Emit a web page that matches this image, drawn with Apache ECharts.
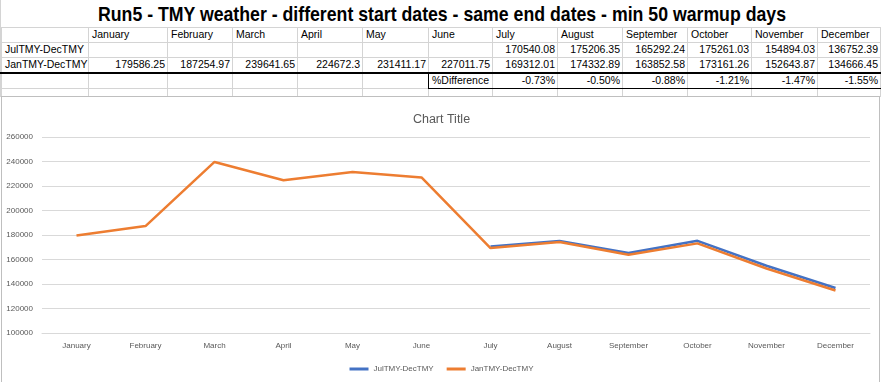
<!DOCTYPE html>
<html><head><meta charset="utf-8">
<script src="https://cdn.jsdelivr.net/npm/echarts@6/dist/echarts.min.js"></script>
<style>
html,body{margin:0;padding:0;width:883px;height:382px;overflow:hidden;background:#fff;font-family:'Liberation Sans',Arial,sans-serif;}
#sheet{position:absolute;left:0;top:0;width:883px;height:100px;}
.cell{position:absolute;font-size:10.5px;color:#000;white-space:nowrap;line-height:1;display:flex;align-items:center;box-sizing:border-box;padding:0 3px;}
.num{justify-content:flex-end;padding:0 2px 0 0;}
.ln{position:absolute;background:#D4D4D4;}
.blk{background:#000;}
#title{position:absolute;left:0;top:2px;font-size:21px;font-weight:bold;white-space:nowrap;transform-origin:0 0;color:#000;}
#chart{position:absolute;left:0;top:96px;width:883px;height:300px;}
#frame{position:absolute;left:1px;top:96px;width:879px;height:300px;border:1px solid #BFBFBF;box-sizing:border-box;pointer-events:none;}
</style></head>
<body>
<div id="sheet"><div id="title"></div></div>
<div id="chart"></div>
<div id="frame"></div>
<script>
// ---- data ----
const titleText = 'Run5 - TMY weather - different start dates - same end dates - min 50 warmup days';
const months = ['January','February','March','April','May','June','July','August','September','October','November','December'];
const julLabel = 'JulTMY-DecTMY';
const janLabel = 'JanTMY-DecTMY';
const julText = ['','','','','','','170540.08','175206.35','165292.24','175261.03','154894.03','136752.39'];
const janText = ['179586.25','187254.97','239641.65','224672.3','231411.17','227011.75','169312.01','174332.89','163852.58','173161.26','152643.87','134666.45'];
const diffLabel = '%Difference';
const diffText = ['-0.73%','-0.50%','-0.88%','-1.21%','-1.47%','-1.55%'];
const julValues = julText.map(v => v === '' ? null : parseFloat(v));
const janValues = janText.map(v => parseFloat(v));
const chartTitle = 'Chart Title';

// ---- sheet layout ----
const colX = [1, 88, 167, 232, 297, 362, 428, 492, 557, 622, 687, 751, 817, 880];
const rowY = [27, 42, 57, 72, 88, 96];
const sheet = document.getElementById('sheet');
function line(x, y, w, h, cls) {
  const d = document.createElement('div');
  d.className = 'ln' + (cls ? ' ' + cls : '');
  d.style.left = x + 'px'; d.style.top = y + 'px';
  d.style.width = w + 'px'; d.style.height = h + 'px';
  sheet.appendChild(d);
}
function cell(c, r, text, isNum) {
  const d = document.createElement('div');
  d.className = 'cell' + (isNum ? ' num' : '');
  d.style.left = (colX[c] + 1) + 'px';
  d.style.top = rowY[r] + 'px';
  d.style.width = (colX[c + 1] - colX[c] - 1) + 'px';
  d.style.height = (rowY[r + 1] - rowY[r]) + 'px';
  d.textContent = text;
  sheet.appendChild(d);
}
// grid lines
line(0, 0, 1, 96);
[27, 42, 57, 96].forEach(y => line(0, y, 881, 1));
line(0, 88, 428, 1);
colX.forEach(x => line(x, 27, 1, 69));
// cells
months.forEach((m, i) => cell(i + 1, 0, m, false));
cell(0, 1, julLabel, false);
cell(0, 2, janLabel, false);
julText.forEach((t, i) => { if (t) cell(i + 1, 1, t, true); });
janText.forEach((t, i) => cell(i + 1, 2, t, true));
cell(6, 3, diffLabel, false);
diffText.forEach((t, i) => cell(i + 7, 3, t, true));
// black borders
line(0, 72, 881, 2, 'blk');
line(428, 88, 453, 1, 'blk');
line(428, 72, 1, 17, 'blk');
// title, squeezed to the reference width
const tEl = document.getElementById('title');
tEl.textContent = titleText;
const tw = tEl.getBoundingClientRect().width;
const targetW = 688, targetL = 98;
tEl.style.left = targetL + 'px';
tEl.style.transform = 'scaleX(' + (targetW / tw) + ')';

// ---- chart ----
const chart = echarts.init(document.getElementById('chart'), null, {renderer: 'canvas'});
const gray = '#595959';
const fam = "'Liberation Sans', Arial, sans-serif";
chart.setOption({
  animation: false,
  color: ['#4472C4', '#ED7D31'],
  title: {
    text: chartTitle, left: 'center', top: 12,
    textStyle: {color: gray, fontSize: 12.5, fontWeight: 'normal', fontFamily: fam}
  },
  legend: {
    bottom: 18, left: 'center', icon: 'rect', itemWidth: 19, itemHeight: 3, itemGap: 13,
    textStyle: {color: gray, fontSize: 8, fontFamily: fam},
    data: [julLabel, janLabel]
  },
  grid: {left: 42, right: 13, top: 41, bottom: 63, containLabel: false},
  xAxis: {
    type: 'category', data: months, boundaryGap: true,
    axisLine: {lineStyle: {color: '#D9D9D9'}}, axisTick: {show: false},
    axisLabel: {color: gray, fontSize: 8, margin: 9, interval: 0, fontFamily: fam}
  },
  yAxis: {
    type: 'value', min: 100000, max: 260000, interval: 20000,
    axisLine: {show: false}, axisTick: {show: false},
    splitLine: {lineStyle: {color: '#D9D9D9'}},
    axisLabel: {color: gray, fontSize: 8, margin: 9, fontFamily: fam, formatter: v => String(v)}
  },
  series: [
    {name: julLabel, type: 'line', data: julValues, symbol: 'none', lineStyle: {width: 2.5}, connectNulls: false},
    {name: janLabel, type: 'line', data: janValues, symbol: 'none', lineStyle: {width: 2.5}}
  ]
});
</script>
</body></html>
